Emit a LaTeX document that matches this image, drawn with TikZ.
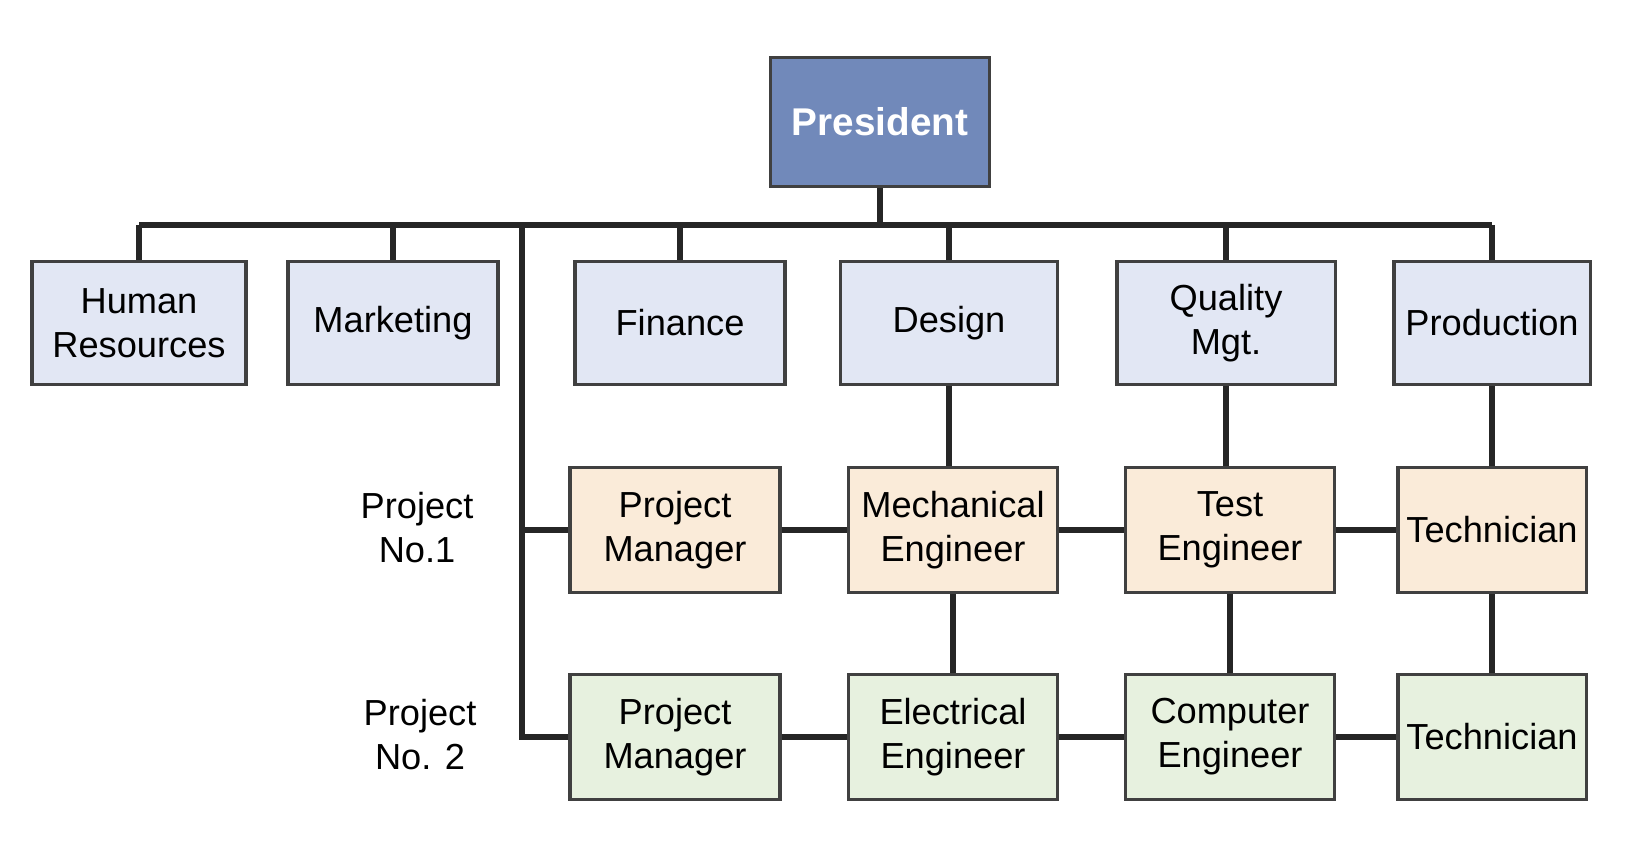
\documentclass[tikz,border=0pt]{standalone}
\usepackage{fontspec}
\setmainfont{Liberation Sans}
\definecolor{presc}{HTML}{7189BA}
\definecolor{deptc}{HTML}{E2E7F4}
\definecolor{rowac}{HTML}{FAEBD9}
\definecolor{rowbc}{HTML}{E7F1DF}
\begin{document}
\begin{tikzpicture}[x=0.01cm,y=-0.01cm,
 box/.style={draw=black!75,line width=0.9pt,align=center,font=\fontsize{10.3}{12.5}\selectfont,inner sep=0pt},
 dept/.style={box,fill=deptc,minimum height=1.23cm},
 rowa/.style={box,fill=rowac,minimum height=1.25cm},
 rowb/.style={box,fill=rowbc,minimum height=1.25cm},
 conn/.style={line width=1.8pt,black!85},
 lbl/.style={align=center,font=\fontsize{10.3}{12.5}\selectfont}]
\useasboundingbox (0,0) rectangle (1646,862);
\node[box,fill=presc,text=white,font=\bfseries\fontsize{11}{13}\selectfont,minimum width=2.19cm,minimum height=1.29cm] (pres) at (880,122) {President};
\node[dept,minimum width=2.14cm] (hr) at (139,323) {Human\\Resources};
\node[dept,minimum width=2.10cm] (mk) at (393,323) {Marketing};
\node[dept,minimum width=2.10cm] (fi) at (680,323) {Finance};
\node[dept,minimum width=2.17cm] (de) at (949,323) {Design};
\node[dept,minimum width=2.18cm] (qm) at (1226,323) {Quality\\Mgt.};
\node[dept,minimum width=1.96cm] (pr) at (1492,323) {Production};
\node[rowa,minimum width=2.10cm] (pm1) at (675,530) {Project\\Manager};
\node[rowa,minimum width=2.09cm] (me) at (953,530) {Mechanical\\Engineer};
\node[rowa,minimum width=2.09cm] (te) at (1230,530) {Test\\Engineer};
\node[rowa,minimum width=1.88cm] (t1) at (1492,530) {Technician};
\node[rowb,minimum width=2.10cm] (pm2) at (675,737) {Project\\Manager};
\node[rowb,minimum width=2.09cm] (ee) at (953,737) {Electrical\\Engineer};
\node[rowb,minimum width=2.09cm] (ce) at (1230,737) {Computer\\Engineer};
\node[rowb,minimum width=1.88cm] (t2) at (1492,737) {Technician};
\node[lbl] (l1) at (417,528) {Project\\No.1};
\node[lbl] (l2) at (420,735) {Project\\No. 2};
\coordinate (bus) at (880,225);
\coordinate (bl) at (139,225);
\coordinate (br) at (1492,225);
\coordinate (vt) at (522,225);
\coordinate (v1) at (522,530);
\coordinate (v2) at (522,737);
\draw[conn] (pres.south) -- (bus);
\draw[conn] (bl) -- (br);
\foreach \n in {hr,mk,fi,de,qm,pr} \draw[conn] (\n.north |- bus) -- (\n.north);
\draw[conn] (vt) -- (v2) -- (pm2.west);
\draw[conn] (v1) -- (pm1.west);
\draw[conn] (pm1) -- (me); \draw[conn] (me) -- (te); \draw[conn] (te) -- (t1);
\draw[conn] (pm2) -- (ee); \draw[conn] (ee) -- (ce); \draw[conn] (ce) -- (t2);
\draw[conn] (de.south) -- (me.north -| de.south); \draw[conn] (me.south) -- (ee.north);
\draw[conn] (qm.south) -- (te.north -| qm.south); \draw[conn] (te.south) -- (ce.north);
\draw[conn] (pr.south) -- (t1.north); \draw[conn] (t1.south) -- (t2.north);
\end{tikzpicture}
\end{document}
